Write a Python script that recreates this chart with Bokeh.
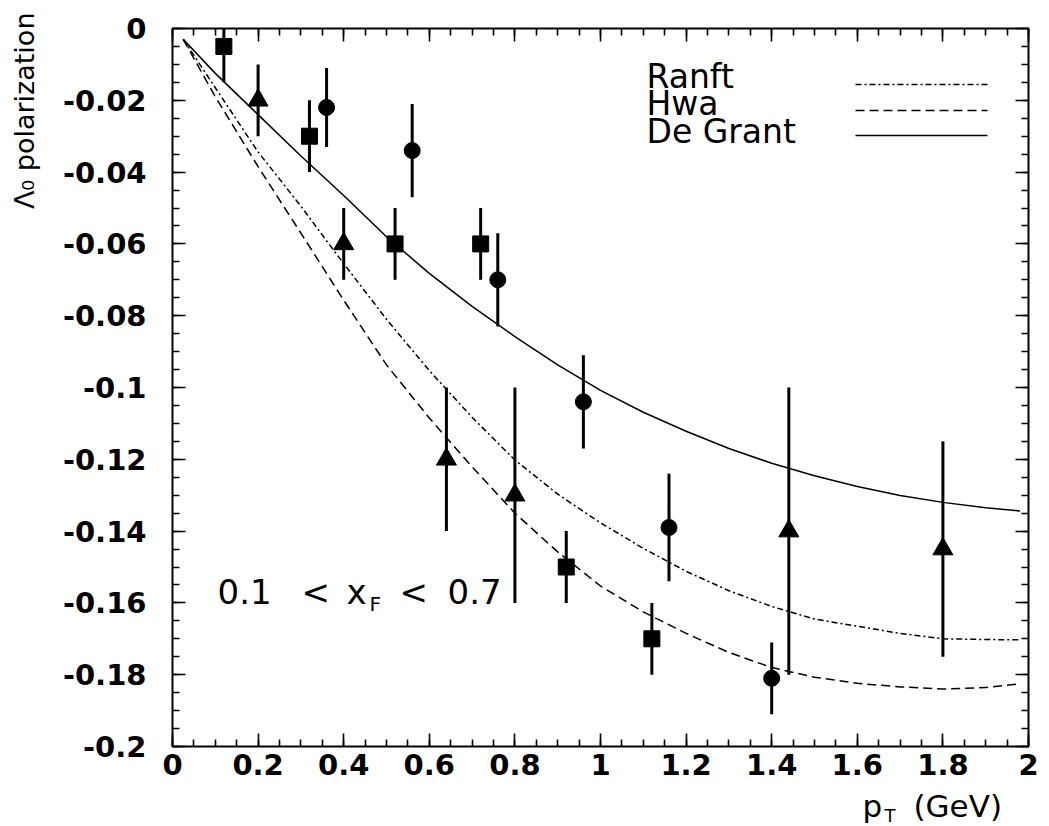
import math
from bokeh.plotting import figure
from bokeh.models import Label, Title, LinearAxis, SingleIntervalTicker, CustomJSTickFormatter, Range1d
from bokeh.embed import file_html
from bokeh.resources import INLINE

# ---------------- data ----------------
sq_x = [0.12, 0.32, 0.52, 0.72, 0.92, 1.12]
sq_y = [-0.005, -0.030, -0.060, -0.060, -0.150, -0.170]
sq_err = [0.010, 0.010, 0.010, 0.010, 0.010, 0.010]

tri_x = [0.20, 0.40, 0.64, 0.80, 1.44, 1.80]
tri_y = [-0.020, -0.060, -0.120, -0.130, -0.140, -0.145]
tri_err = [0.010, 0.010, 0.020, 0.030, 0.040, 0.030]

cir_x = [0.36, 0.56, 0.76, 0.96, 1.16, 1.40]
cir_y = [-0.022, -0.034, -0.070, -0.104, -0.139, -0.181]
cir_err = [0.011, 0.013, 0.013, 0.013, 0.015, 0.010]

curve_x = [0.025, 0.1, 0.2, 0.3, 0.4, 0.5, 0.6, 0.7, 0.8, 0.9, 1.0,
           1.1, 1.2, 1.3, 1.4, 1.5, 1.6, 1.7, 1.8, 1.9, 1.98]
degrant_y = [-0.003, -0.0125, -0.024, -0.0355, -0.0465, -0.0580, -0.0682, -0.0774,
             -0.0858, -0.0937, -0.1008, -0.1069, -0.1122, -0.1170, -0.1211, -0.1246,
             -0.1276, -0.1301, -0.1320, -0.1335, -0.1344]
ranft_y = [-0.003, -0.0165, -0.0344, -0.0495, -0.0655, -0.081, -0.0953, -0.1083,
           -0.1202, -0.1297, -0.1377, -0.1448, -0.1512, -0.1566, -0.161, -0.1645,
           -0.1665, -0.1685, -0.170, -0.1702, -0.1703]
hwa_y = [-0.003, -0.019, -0.0385, -0.057, -0.0757, -0.0937, -0.1085, -0.1221,
         -0.135, -0.1458, -0.1553, -0.1625, -0.1685, -0.1738, -0.178, -0.1807,
         -0.1824, -0.1834, -0.184, -0.1836, -0.1825]

x_ticks_interval = 0.2
y_ticks_interval = 0.02
legend_names = ["Ranft", "Hwa", "De Grant"]

# ---------------- figure ----------------
FRAME_L, FRAME_T, FRAME_W, FRAME_H = 172, 28, 856, 718
p = figure(frame_width=FRAME_W, frame_height=FRAME_H,
           x_range=Range1d(0, 2), y_range=Range1d(-0.2, 0),
           output_backend="svg", toolbar_location=None,
           min_border_left=FRAME_L, min_border_top=FRAME_T,
           min_border_right=1049 - FRAME_L - FRAME_W,
           min_border_bottom=826 - FRAME_T - FRAME_H)
p.xgrid.visible = False
p.ygrid.visible = False
p.outline_line_color = "black"
p.outline_line_width = 2
p.background_fill_color = "white"
p.border_fill_color = "white"

# picture pixel -> data coordinates
def sx(px):
    return (px - FRAME_L) / FRAME_W * 2.0

def sy(py):
    return -(py - FRAME_T) / FRAME_H * 0.2

fmt = CustomJSTickFormatter(code="return String(Number(tick.toFixed(3)));")

def style_axis(ax, tick_len=13, minor_len=7):
    ax.axis_line_color = None
    ax.major_tick_in = tick_len
    ax.major_tick_out = 0
    ax.minor_tick_in = minor_len
    ax.minor_tick_out = 0
    ax.major_tick_line_width = 1.6
    ax.minor_tick_line_width = 1.6
    ax.major_tick_line_color = "black"
    ax.minor_tick_line_color = "black"

xa = p.xaxis[0]
xa.ticker = SingleIntervalTicker(interval=x_ticks_interval, num_minor_ticks=4)
xa.formatter = fmt
style_axis(xa)
xa.major_label_text_font = "DejaVu Sans"
xa.major_label_text_font_style = "bold"
xa.major_label_text_font_size = "29px"
xa.major_label_text_color = "black"
xa.major_label_standoff = 7

ya = p.yaxis[0]
ya.ticker = SingleIntervalTicker(interval=y_ticks_interval, num_minor_ticks=4)
ya.formatter = fmt
style_axis(ya)
ya.major_label_text_font = "DejaVu Sans"
ya.major_label_text_font_style = "bold"
ya.major_label_text_font_size = "29px"
ya.major_label_text_color = "black"
ya.major_label_standoff = 26

top = LinearAxis(ticker=SingleIntervalTicker(interval=x_ticks_interval, num_minor_ticks=4),
                 major_label_text_font_size="1px", major_label_text_color=None,
                 major_label_standoff=0)
style_axis(top)
p.add_layout(top, "above")
right = LinearAxis(ticker=SingleIntervalTicker(interval=y_ticks_interval, num_minor_ticks=4),
                   major_label_text_font_size="1px", major_label_text_color=None,
                   major_label_standoff=0)
style_axis(right)
p.add_layout(right, "right")

# ---------------- curves ----------------
p.line(curve_x, degrant_y, line_color="black", line_width=1.5)
p.line(curve_x, ranft_y, line_color="black", line_width=1.5, line_dash="6 3 2 3")
p.line(curve_x, hwa_y, line_color="black", line_width=1.5, line_dash="9 5")

# ---------------- error bars + markers ----------------
for xs, ys, es in [(sq_x, sq_y, sq_err), (tri_x, tri_y, tri_err), (cir_x, cir_y, cir_err)]:
    p.segment(x0=xs, y0=[y - e for y, e in zip(ys, es)],
              x1=xs, y1=[y + e for y, e in zip(ys, es)],
              line_color="black", line_width=3)

p.scatter(sq_x, sq_y, marker="square", size=16, fill_color="black", line_color="black")
p.scatter(tri_x, tri_y, marker="triangle", size=20, fill_color="black", line_color="black")
p.scatter(cir_x, cir_y, marker="circle", size=16, fill_color="black", line_color="black")

# ---------------- legend (manual: text left, line sample right) ----------------
FONT = "DejaVu Sans"
leg_text_mid = [76, 103, 131]
leg_line_y = [84, 110, 135]
leg_dash = ["6 3 2 3", "9 5", "solid"]
for name, tm, ly, dash in zip(legend_names, leg_text_mid, leg_line_y, leg_dash):
    p.add_layout(Label(x=sx(646), y=sy(tm), text=name, text_font=FONT,
                       text_font_size="33px", text_color="black",
                       text_align="left", text_baseline="middle"))
    p.line([sx(855), sx(987)], [sy(ly), sy(ly)], line_color="black",
           line_width=1.5, line_dash=dash)

# ---------------- annotation 0.1 < x_F < 0.7 ----------------
ann = [("0.1", 217, 591, "34px"), ("<", 301, 591, "34px"), ("x", 346, 591, "34px"),
       ("F", 369, 603, "20px"), ("<", 399, 591, "34px"), ("0.7", 447, 591, "34px")]
for t, px, py, fs in ann:
    p.add_layout(Label(x=sx(px), y=sy(py), text=t, text_font=FONT, text_font_size=fs,
                       text_color="black", text_align="left", text_baseline="middle"))

# ---------------- axis titles (in side panels so they are not clipped) ----------------
p.add_layout(Label(x=sx(862), y=sy(805), text="p", text_font=FONT, text_font_size="31px",
                   text_color="black", text_align="left", text_baseline="middle"), "left")
p.add_layout(Title(text="Λ₀ polarization", align="right", offset=-16, standoff=0,
                   text_font=FONT, text_font_style="normal", text_font_size="27px",
                   text_color="black"), "left")
p.add_layout(Label(x=sx(884), y=sy(815), text="T", text_font=FONT, text_font_size="18px",
                   text_color="black", text_align="left", text_baseline="middle"), "above")
p.add_layout(Label(x=sx(913), y=sy(805), text="(GeV)", text_font=FONT, text_font_size="31px",
                   text_color="black", text_align="left", text_baseline="middle"), "below")

open("out.html", "w").write(file_html(p, INLINE))
